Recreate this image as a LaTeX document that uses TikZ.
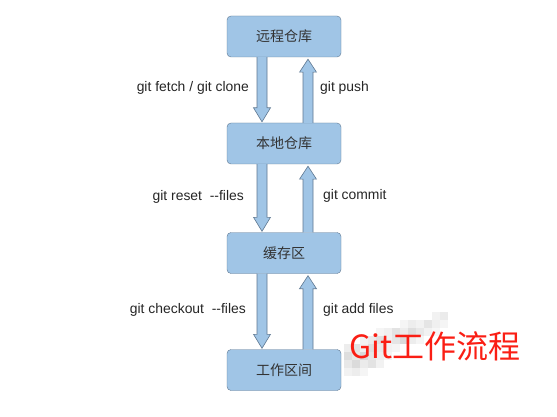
\documentclass[tikz,border=0pt]{standalone}
\usepackage{fontspec}
\setmainfont{Liberation Sans}
\newfontfamily\cjk{Noto Sans CJK SC}
\usetikzlibrary{calc}
\definecolor{boxfill}{RGB}{160,197,230}
\definecolor{boxline}{RGB}{95,120,145}
\definecolor{titlered}{RGB}{250,30,20}
\tikzset{
  stage/.style={draw=boxline, fill=boxfill, rounded corners=4pt, minimum width=114pt, minimum height=41pt, inner sep=0pt, font=\cjk\fontsize{14}{16}\selectfont, text=black!80},
  fatarr/.style={draw=boxline, fill=boxfill, line width=0.6pt, line join=miter},
  lbl/.style={font=\fontsize{13.9}{16}\selectfont, text=black!85, inner sep=0pt}
}
\newcommand{\downfat}[3]{% from node, to node, x offset
  \draw[fatarr] ($(#1.south)+(#3-5,0)$) -- ($(#2.north)+(#3-5,-15)$) -- ($(#2.north)+(#3-8.5,-15)$)
    -- ($(#2.north)+(#3,-1)$) -- ($(#2.north)+(#3+8.5,-15)$) -- ($(#2.north)+(#3+5,-15)$)
    -- ($(#1.south)+(#3+5,0)$);}
\newcommand{\upfat}[3]{% from node (lower), to node (upper), x offset
  \draw[fatarr] ($(#1.north)+(#3-5,0)$) -- ($(#2.south)+(#3-5,15)$) -- ($(#2.south)+(#3-8.5,15)$)
    -- ($(#2.south)+(#3,2)$) -- ($(#2.south)+(#3+8.5,15)$) -- ($(#2.south)+(#3+5,15)$)
    -- ($(#1.north)+(#3+5,0)$);}
\begin{document}
\begin{tikzpicture}[x=1pt,y=-1pt]
\useasboundingbox[fill=white] (0,0) rectangle (557,417);
% mosaic smudge
\foreach \c/\r/\s in {11/0/5,12/0/8,
  7/1/4,8/1/7,9/1/5,10/1/10,11/1/6,12/1/4,
  4/2/4,5/2/6,6/2/11,7/2/7,8/2/13,9/2/9,10/2/5,11/2/3,
  2/3/5,3/3/8,4/3/12,5/3/6,6/3/10,7/3/14,8/3/7,9/3/4,
  0/4/7,1/4/11,2/4/6,3/4/13,4/4/9,5/4/5,6/4/4,
  0/5/13,1/5/9,2/5/15,3/5/10,4/5/7,5/5/4,
  0/6/9,1/6/14,2/6/8,3/6/11,4/6/5,
  0/7/5,1/7/7,2/7/4}
  \fill[black!\s] ({344+8*\c},{312+8*\r}) rectangle ++(8,8);
\node[stage] (remote) at (284,36.5) {远程仓库};
\node[stage] (local) at (284,143.5) {本地仓库};
\node[stage] (stash) at (284,253) {缓存区};
\node[stage] (work) at (284,370) {工作区间};
\downfat{remote}{local}{-22}
\upfat{local}{remote}{24}
\downfat{local}{stash}{-22}
\upfat{stash}{local}{24}
\downfat{stash}{work}{-22}
\upfat{work}{stash}{24}
\node[lbl, anchor=east] (l1) at (249,88) {git fetch / git clone};
\node[lbl, anchor=west] (l2) at (320,88) {git push};
\node[lbl, anchor=east] (l3) at (244,197) {git reset\ \ -{}-files};
\node[lbl, anchor=west] (l4) at (323,196) {git commit};
\node[lbl, anchor=east] (l5) at (246,310) {git checkout\ \ -{}-files};
\node[lbl, anchor=west] (l6) at (323,310) {git add files};
\node[font=\cjk\fontsize{32}{34}\selectfont, text=titlered, anchor=west, inner sep=0pt] (title) at (349,346) {Git工作流程};
\end{tikzpicture}
\end{document}
